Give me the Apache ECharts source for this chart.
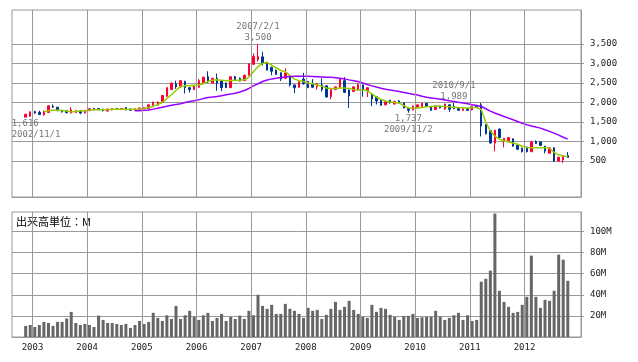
<!DOCTYPE html>
<html><head><meta charset="utf-8">
<script src="https://cdn.jsdelivr.net/npm/echarts@6/dist/echarts.min.js"></script>
<style>html,body{margin:0;padding:0;background:#fff}#c{width:638px;height:362px}</style>
</head><body><div id="c"></div>
<script>
// months 2002/11 .. 2012/10
const months = [];
for (let i = 0; i < 120; i++) { const t = 10 + i; months.push((2002 + Math.floor(t / 12)) + '/' + (t % 12 + 1)); }

const open = [1625,1650,1770,1750,1690,1745,1900,1880,1800,1790,
1730,1740,1790,1735,1790,1850,1845,1830,1780,1810,
1850,1820,1870,1830,1800,1830,1850,1840,1930,1930,
2000,2160,2330,2480,2400,2540,2380,2330,2390,2500,
2660,2500,2620,2560,2500,2380,2660,2620,2560,2700,
2980,3100,3170,3000,2900,2830,2760,2620,2660,2450,
2390,2600,2540,2490,2400,2450,2430,2150,2330,2390,
2560,2320,2280,2320,2450,2300,2220,2150,2060,1940,
2060,1960,2040,1990,1850,1810,1880,1900,1980,1900,
1820,1910,1830,1940,1900,1850,1800,1840,1810,1910,
1940,1440,1280,960,1320,1010,1020,1070,910,830,
860,740,1000,990,880,700,840,500,530,640];
const close = [1700,1760,1730,1690,1780,1915,1880,1790,1760,1740,
1810,1790,1730,1800,1840,1810,1815,1790,1830,1845,
1830,1850,1810,1800,1840,1860,1870,1940,2010,2010,
2180,2380,2500,2400,2560,2380,2330,2420,2560,2650,
2530,2620,2500,2380,2380,2660,2580,2550,2700,2990,
3180,3180,3000,2830,2800,2720,2600,2760,2450,2380,
2540,2480,2380,2390,2480,2330,2140,2330,2400,2600,
2260,2170,2400,2460,2320,2380,2090,2040,1930,2020,
1990,2030,1990,1860,1800,1910,1940,1980,1900,1800,
1910,1860,1960,1830,1840,1800,1840,1800,1900,1880,
1400,1200,960,1290,1100,1080,1100,880,800,740,
740,990,950,900,760,840,500,600,640,590];
const low = [1616,1630,1710,1680,1660,1740,1860,1780,1740,1720,
1720,1730,1700,1720,1780,1800,1800,1770,1770,1800,
1820,1810,1800,1790,1790,1820,1840,1830,1920,1920,
1990,2150,2320,2350,2380,2230,2260,2320,2380,2490,
2500,2490,2300,2290,2370,2370,2570,2540,2550,2690,
2960,3050,2950,2820,2700,2700,2550,2600,2410,2240,
2380,2460,2370,2380,2330,2280,2130,2080,2320,2380,
2240,1860,2270,2310,2150,2140,1910,1950,1920,1930,
1970,1950,1970,1850,1737,1800,1870,1890,1890,1790,
1810,1850,1820,1760,1830,1790,1790,1790,1800,1860,
1130,1180,950,750,1090,850,1010,870,790,720,
720,730,940,890,700,690,480,490,450,580];
const high = [1710,1770,1790,1790,1790,1925,1950,1890,1810,1800,
1880,1800,1800,1810,1850,1860,1850,1840,1840,1850,
1860,1860,1880,1840,1850,1870,1880,1950,2020,2030,
2190,2390,2510,2560,2570,2560,2390,2430,2600,2660,
2800,2630,2740,2570,2510,2670,2680,2640,2710,3000,
3260,3500,3300,3010,2920,2840,2770,2880,2670,2460,
2550,2760,2550,2600,2500,2620,2440,2340,2410,2610,
2650,2340,2420,2490,2460,2390,2230,2160,2070,2030,
2070,2040,2060,2000,1870,1920,1950,1990,1990,1910,
1920,1920,1970,1950,1989,1860,1850,1850,1910,1940,
1990,1450,1290,1300,1330,1090,1120,1080,920,840,
870,1020,1030,1000,890,850,850,610,650,730];

const maShort = [null,null,null,null,1760,1790,1800,1800,1795,1780,
1760,1770,1780,1790,1800,1812,1815,1815,1820,1825,
1830,1830,1830,1830,1830,1835,1845,1870,1900,1950,
2000,2100,2200,2310,2410,2430,2430,2440,2450,2480,
2540,2570,2580,2570,2560,2565,2570,2570,2580,2650,
2790,2920,3000,3030,2960,2890,2820,2790,2690,2600,
2560,2540,2500,2480,2450,2420,2370,2360,2360,2370,
2370,2360,2330,2320,2320,2300,2220,2140,2080,2040,
2010,2000,1990,1920,1860,1855,1860,1870,1890,1900,
1910,1905,1895,1890,1880,1870,1865,1860,1870,1870,
1820,1500,1270,1140,1060,1020,990,960,930,880,
850,840,840,840,840,830,720,660,630,610];
const maLong = [null,null,null,null,null,null,null,null,null,null,
null,null,null,null,null,null,null,null,null,null,
null,null,null,null,1790,1790,1800,1810,1830,1855,
1880,1905,1930,1950,1966,2000,2026,2045,2068,2100,
2128,2140,2153,2175,2196,2215,2239,2270,2307,2360,
2426,2480,2537,2575,2605,2620,2639,2652,2665,2670,
2673,2673,2670,2665,2660,2655,2650,2645,2635,2620,
2605,2580,2560,2537,2500,2460,2426,2395,2365,2341,
2320,2300,2281,2258,2235,2213,2190,2160,2136,2118,
2100,2085,2065,2045,2026,2005,1985,1966,1945,1922,
1898,1840,1780,1730,1685,1640,1600,1557,1515,1470,
1429,1400,1370,1344,1300,1260,1216,1165,1110,1062];

const volume = [10.5,11.4,9.5,11.4,14.3,13.3,10.5,14.3,14.3,17.5,
23.8,13.3,11.4,12.4,11.4,9.5,20.3,16.2,13.3,13.3,
12.4,11.4,12.4,8.6,11.4,15.2,12.4,14.3,22.9,18.1,
15.2,20.6,17.1,29.5,17.1,20.6,24.8,19.0,16.2,20.6,
22.9,15.2,18.1,21.9,15.2,19.0,17.1,20.3,17.1,24.8,
20.6,40.0,29.5,26.7,30.5,21.9,21.9,31.4,26.7,24.8,
21.9,18.1,27.6,24.8,25.7,17.1,21.0,26.7,33.3,25.7,
28.6,34.3,25.7,21.9,19.0,18.1,30.5,23.8,27.6,26.7,
21.0,19.0,16.2,20.0,20.0,21.9,18.1,18.7,19.0,19.0,
24.8,19.0,16.2,18.1,20.6,22.9,16.2,20.6,15.2,16.2,
52.4,55.2,62.9,117,43.8,33.3,28.6,22.9,23.8,30.5,
38.1,77.1,38.1,27.6,35.2,34.3,43.8,78.1,73.3,53.3];

const yearLabels = ['2003','2004','2005','2006','2007','2008','2009','2010','2011','2012'];
const priceTicks = [500,1000,1500,2000,2500,3000,3500];
const volTicks = [20,40,60,80,100];
// annotations: [month index, value, text, side]
const notes = [
  [0, 1616, '1,616\n2002/11/1', 'bottomLeft'],
  [51, 3500, '2007/2/1\n3,500', 'top'],
  [84, 1737, '1,737\n2009/11/2', 'bottom'],
  [94, 1989, '2010/9/1\n1,989', 'top']
];

// x = months counted from the start of 2002 (month centres at n + 0.5); year boundaries at multiples of 12
const xOf = i => i + 10.5;
const yearBounds = yearLabels.map((_, k) => (k + 1) * 12);
const mono = '"DejaVu Sans Mono", monospace';
const gridColor = '#999';

const candles = months.map((m, i) => [xOf(i), open[i], close[i], low[i], high[i]]);
const maS = months.map((m, i) => maShort[i] == null ? null : [xOf(i), maShort[i]]).filter(Boolean);
const maL = months.map((m, i) => maLong[i] == null ? null : [xOf(i), maLong[i]]).filter(Boolean);
const vols = months.map((m, i) => [xOf(i), volume[i]]);

const fmtNum = v => Math.round(v).toLocaleString('en-US');
const split = () => ({show: true, lineStyle: {color: gridColor}});
const aline = () => ({show: true, onZero: false, lineStyle: {color: gridColor}});
// visible 1px ticks inside, lying on the grid lines themselves
const xTick = () => ({show: true, inside: true, length: 2, customValues: yearBounds, lineStyle: {color: gridColor}});
const yearLines = () => ({symbol: ['none', 'none'], label: {show: true, formatter: () => ''},
  lineStyle: {color: gridColor, width: 1, type: 'solid'},
  data: yearBounds.map(v => ({xAxis: v}))});
const yearText = v => { const k = Math.round(v / 12) - 1; return (Math.abs(v - (k + 1) * 12) < 1e-6 && k >= 0 && k < yearLabels.length) ? yearLabels[k] : ''; };

const chart = echarts.init(document.getElementById('c'));
chart.setOption({
  animation: false,
  grid: [
    {left: 12, top: 10, width: 569, height: 187, show: true, borderColor: gridColor, borderWidth: 1},
    {left: 12, top: 212, width: 569, height: 125, show: true, borderColor: gridColor, borderWidth: 1}
  ],
  xAxis: [
    {type: 'value', gridIndex: 0, min: 7.5, max: 132.4, axisLine: aline(), axisTick: xTick(),
     axisLabel: {show: true, customValues: yearBounds, formatter: () => ''}, splitLine: split()},
    {type: 'value', gridIndex: 1, min: 7.5, max: 132.4, axisLine: aline(), axisTick: xTick(),
     splitLine: split(),
     axisLabel: {customValues: yearBounds, margin: 6, fontSize: 9, fontFamily: mono, color: '#222',
       formatter: yearText}}
  ],
  yAxis: [
    {type: 'value', gridIndex: 0, position: 'right', min: -421, max: 4370, axisLine: aline(),
     axisTick: {show: true, length: 3, customValues: priceTicks, lineStyle: {color: gridColor}},
     axisLabel: {customValues: priceTicks, margin: 9, fontSize: 9, fontFamily: mono, color: '#222',
       formatter: v => fmtNum(v)},
     splitLine: split()},
    {type: 'value', gridIndex: 1, position: 'right', min: 0, max: 118.5, axisLine: aline(),
     axisTick: {show: true, length: 3, customValues: volTicks, lineStyle: {color: gridColor}},
     axisLabel: {customValues: volTicks, margin: 9, fontSize: 9, fontFamily: mono, color: '#222',
       formatter: v => v + 'M'},
     splitLine: split()}
  ],
  graphic: [{type: 'text', left: 16, top: 216, silent: true,
    style: {text: '出来高単位：M', font: '11px "Noto Sans CJK JP"', fill: '#000'}}],
  series: [
    {type: 'candlestick', xAxisIndex: 0, yAxisIndex: 0, data: candles, barWidth: 2,
     itemStyle: {color: '#ff0033', color0: '#003399', borderColor: '#ff0033', borderColor0: '#003399', borderWidth: 1},
     markPoint: {silent: true, symbol: 'circle', symbolSize: 1, itemStyle: {color: 'rgba(0,0,0,0)'},
       data: notes.map(n => ({coord: [xOf(n[0]), n[1]], value: n[2],
         label: {show: true, formatter: n[2], color: '#777', fontSize: 9, fontFamily: mono, lineHeight: 11,
           position: n[3] === 'top' ? 'top' : 'bottom', distance: 0,
           align: n[3] === 'bottomLeft' ? 'left' : 'center', offset: n[3] === 'bottomLeft' ? [-14, 0] : [0, 0]}}))}},
    {type: 'line', xAxisIndex: 0, yAxisIndex: 0, data: maS, symbol: 'none',
     lineStyle: {color: '#99cc00', width: 1.5}, markLine: yearLines()},
    {type: 'line', xAxisIndex: 0, yAxisIndex: 0, data: maL, symbol: 'none',
     lineStyle: {color: '#9900ff', width: 1.5}},
    {type: 'bar', xAxisIndex: 1, yAxisIndex: 1, data: vols, barWidth: 3,
     itemStyle: {color: '#666666'}, markLine: yearLines()}
  ]
});
</script></body></html>
